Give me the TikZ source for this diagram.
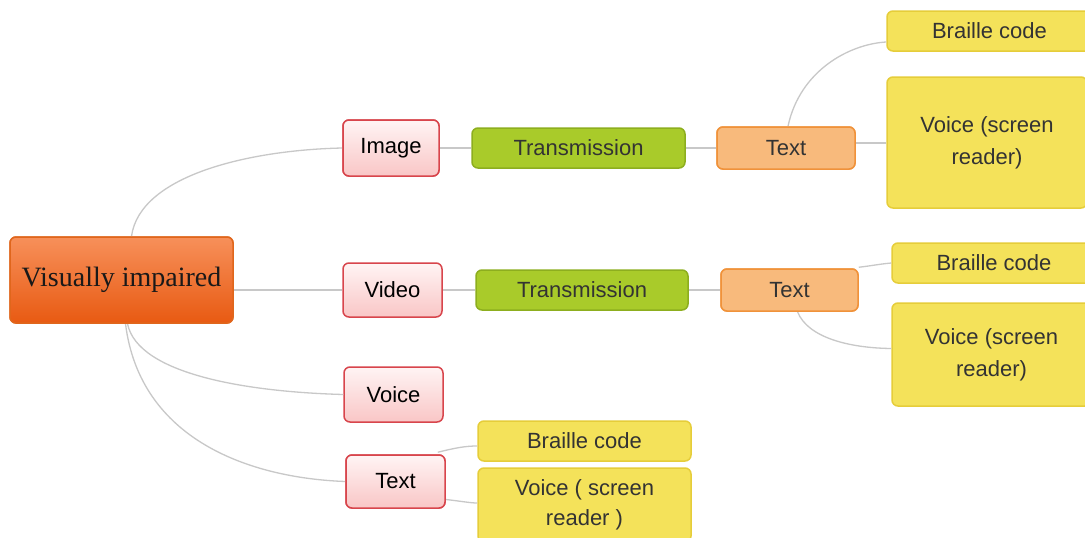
\documentclass[tikz,border=0pt]{standalone}
\usepackage{fontspec}
\setmainfont{Liberation Sans}
\newfontfamily\serifroot{Liberation Serif}
\definecolor{rootA}{HTML}{F7905A}
\definecolor{rootB}{HTML}{E85A12}
\definecolor{rootD}{HTML}{E0661C}
\definecolor{redD}{HTML}{D8454C}
\definecolor{redA}{HTML}{FFF4F4}
\definecolor{redB}{HTML}{F9C6C6}
\definecolor{grnF}{HTML}{A9CB2A}
\definecolor{grnD}{HTML}{8DAE1E}
\definecolor{orF}{HTML}{F8BA7C}
\definecolor{orD}{HTML}{F0923A}
\definecolor{yeF}{HTML}{F4E25A}
\definecolor{yeD}{HTML}{E6CD3A}
\definecolor{txtD}{HTML}{333333}
\definecolor{conn}{HTML}{C8C8C8}
\tikzset{
  box/.style={rounded corners=6pt, inner sep=0pt, align=center, line width=1.5pt,
    font=\fontsize{22}{30}\selectfont},
  rootbox/.style={box, top color=rootA, bottom color=rootB, draw=rootD,
    font=\serifroot\fontsize{28}{32}\selectfont, text=black!90},
  redbox/.style={box, top color=redA, bottom color=redB, draw=redD, text=black},
  grnbox/.style={box, fill=grnF, draw=grnD, text=txtD},
  orbox/.style={box, fill=orF, draw=orD, text=txtD},
  yebox/.style={box, fill=yeF, draw=yeD, text=txtD},
  wideline/.style={font=\fontsize{22}{32}\selectfont},
  link/.style={draw=conn, line width=1.3pt}
}
\begin{document}
\begin{tikzpicture}[x=1pt,y=-1pt]
\useasboundingbox (0,0) rectangle (1085,538);
\clip (0,0) rectangle (1085,538);
\fill[white] (0,0) rectangle (1085,538);
\coordinate (viC) at (121.5,280);
\coordinate (imgC) at (391,148);
\coordinate (tx1C) at (786,148);
\coordinate (tx2C) at (789.5,290);
\coordinate (tx3C) at (395.5,481.5);
% nodes
\node[rootbox, minimum width=223pt, minimum height=86pt] (vi) at (viC) {Visually impaired};
\node[redbox, minimum width=96pt, minimum height=56pt] (img) at (imgC) {Image};
\node[grnbox, minimum width=213pt, minimum height=40pt] (tr1) at (578.5,148) {Transmission};
\node[orbox, minimum width=138pt, minimum height=42pt] (tx1) at (tx1C) {Text};
\node[yebox, minimum width=205pt, minimum height=40pt] (br1) at (989.5,31) {Braille code};
\node[yebox, wideline, minimum width=200pt, minimum height=131pt] (vo1) at (987,142.5) {Voice (screen\\reader)};
\node[redbox, minimum width=99pt, minimum height=54pt] (vid) at (392.5,290) {Video};
\node[grnbox, minimum width=212pt, minimum height=40pt] (tr2) at (582,290) {Transmission};
\node[orbox, minimum width=137pt, minimum height=42pt] (tx2) at (tx2C) {Text};
\node[yebox, minimum width=204pt, minimum height=40pt] (br2) at (994,263) {Braille code};
\node[yebox, wideline, minimum width=199pt, minimum height=103pt] (vo2) at (991.5,354.5) {Voice (screen\\reader)};
\node[redbox, minimum width=99pt, minimum height=55pt] (voi) at (393.5,394.5) {Voice};
\node[redbox, minimum width=99pt, minimum height=53pt] (tx3) at (tx3C) {Text};
\node[yebox, minimum width=213pt, minimum height=40pt] (br3) at (584.5,441) {Braille code};
\node[yebox, minimum width=213pt, minimum height=74pt] (vo3) at (584.5,505) {Voice ( screen\\reader )};
% connectors
\draw[link] ([xshift=10pt]vi.north) .. controls (140,175) and (250,150) .. (img.west);
\draw[link] (vi.east |- vid.west) -- (vid.west);
\draw[link] ([xshift=6pt]vi.south) .. controls (138,375) and (250,392) .. (voi.west);
\draw[link] ([xshift=4pt]vi.south) .. controls (140,440) and (250,478) .. (tx3.west);
\draw[link] (img.east) -- (tr1.west);
\draw[link] (tr1.east) -- (tx1.west);
\draw[link] ([xshift=2pt]tx1.north) .. controls (800,70) and (850,44) .. ([yshift=-11pt]br1.west);
\draw[link] ([yshift=5pt]tx1.east) -- ([yshift=-0.5pt]vo1.west);
\draw[link] (vid.east) -- (tr2.west);
\draw[link] (tr2.east) -- (tx2.west);
\draw[link] ([yshift=1pt]tx2.north east) .. controls (870,266) and (880,264) .. (br2.west);
\draw[link] ([xshift=8pt]tx2.south) .. controls (808,338) and (850,348) .. ([yshift=6pt]vo2.west);
\draw[link] ([xshift=-8pt,yshift=2pt]tx3.north east) .. controls (455,448) and (465,446) .. ([yshift=-5pt]br3.west);
\draw[link] ([yshift=-18pt]tx3.east) .. controls (460,501) and (470,503) .. ([yshift=2pt]vo3.west);
% redraw boxes that the connectors touch
\node[redbox, minimum width=96pt, minimum height=56pt] at (imgC) {Image};
\node[rootbox, minimum width=223pt, minimum height=86pt] at (viC) {Visually impaired};
\node[orbox, minimum width=138pt, minimum height=42pt] at (tx1C) {Text};
\node[orbox, minimum width=137pt, minimum height=42pt] at (tx2C) {Text};
\node[redbox, minimum width=99pt, minimum height=53pt] at (tx3C) {Text};
\end{tikzpicture}
\end{document}
